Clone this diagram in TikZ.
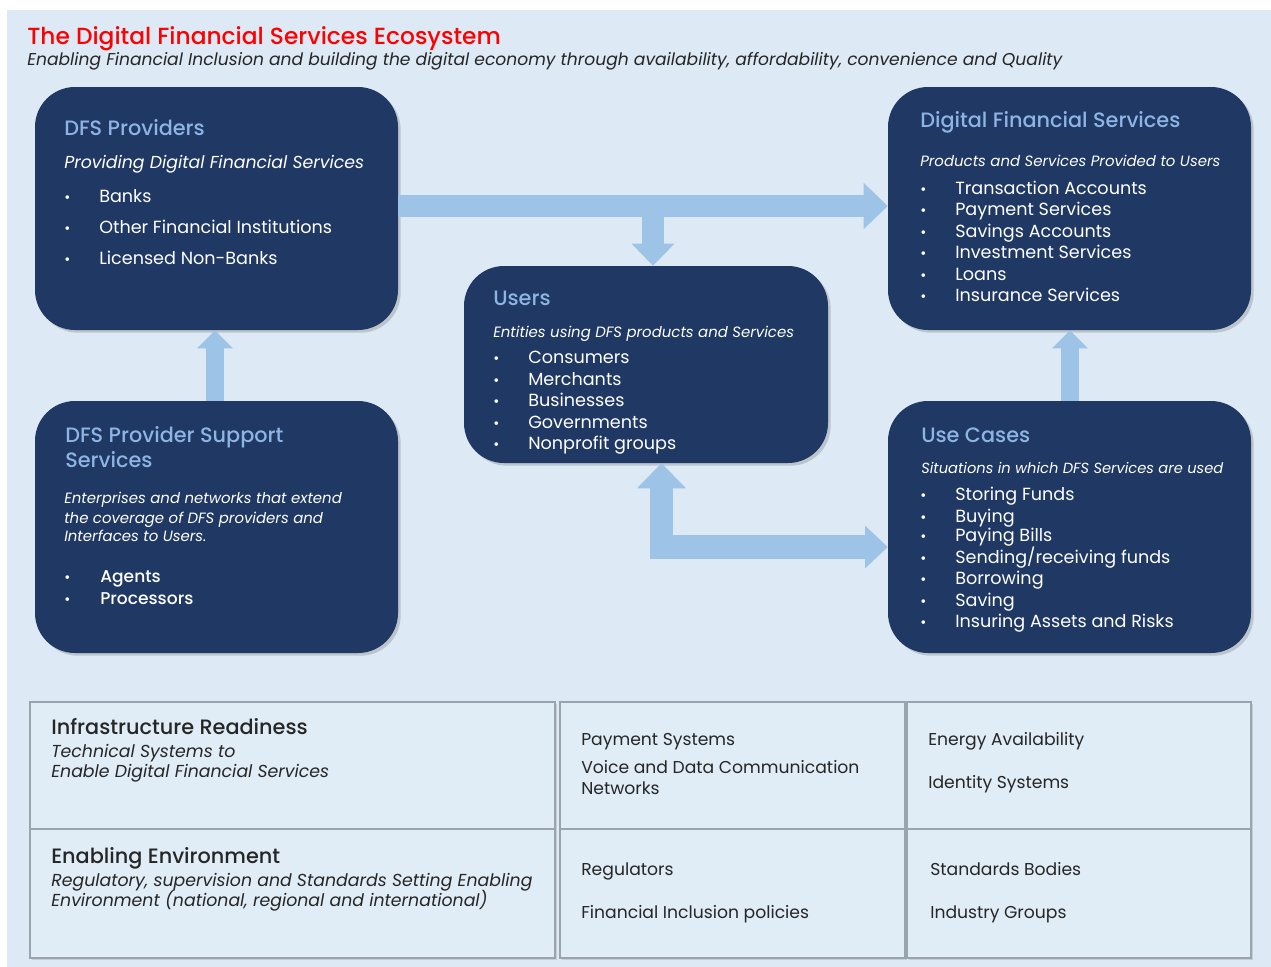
\documentclass[tikz,border=0pt]{standalone}
\usepackage{fontspec}
\setmainfont{Poppins}
\newfontfamily\pmed{Poppins Medium}
\usetikzlibrary{shadows,arrows.meta,calc}
\definecolor{bg}{HTML}{DDE9F5}
\definecolor{navy}{HTML}{1F3864}
\definecolor{ttl}{HTML}{8EB4E3}
\definecolor{arr}{HTML}{9DC3E6}
\definecolor{cell}{HTML}{E0ECF6}
\definecolor{cellb}{HTML}{9AA4AE}
\definecolor{txt}{HTML}{262626}
\begin{document}
\begin{tikzpicture}[x=0.75pt,y=-0.75pt,
  dfsbox/.style={fill=navy, rounded corners=30pt, inner sep=0pt,
    drop shadow={opacity=0.35, shadow xshift=2pt, shadow yshift=-2pt}},
  cellbox/.style={fill=cell, draw=cellb, line width=1.3pt, inner sep=0pt,
    drop shadow={opacity=0.25, shadow xshift=1.5pt, shadow yshift=-1.5pt}},
  btitle/.style={anchor=base west, inner sep=0pt, text=ttl, font=\fontsize{15.6}{18}\pmed},
  bsub/.style={anchor=base west, inner sep=0pt, text=white, font=\fontsize{11.2}{14}\selectfont\itshape},
  bitem/.style={anchor=base west, inner sep=0pt, text=white, font=\fontsize{13.2}{15}\selectfont},
  bdot/.style={anchor=base west, inner sep=0pt, text=white, font=\fontsize{11}{15}\selectfont},
  thead/.style={anchor=base west, inner sep=0pt, text=txt, font=\fontsize{15.6}{18}\pmed},
  tital/.style={anchor=base west, inner sep=0pt, text=txt, font=\fontsize{13}{15}\selectfont\itshape},
  ttext/.style={anchor=base west, inner sep=0pt, text=txt, font=\fontsize{12.9}{15}\selectfont},
  barrow/.style={draw=arr, line join=miter}
]
\useasboundingbox (0,0) rectangle (1271,967);
\fill[white] (0,0) rectangle (1271,967);
\fill[bg] (7,10) rectangle (1271,967);

% title
\node[anchor=base west, inner sep=0pt, text=red, font=\fontsize{17.5}{22}\pmed] (title) at (27,44) {The Digital Financial Services Ecosystem};
\node[anchor=base west, inner sep=0pt, text=txt, font=\fontsize{12.85}{15}\selectfont\itshape] (subtitle) at (27,65) {Enabling Financial Inclusion and building the digital economy through availability, affordability, convenience and Quality};

% boxes
\node[dfsbox, minimum width=363*0.75pt, minimum height=243*0.75pt] (prov) at (216.5,208.5) {};
\node[dfsbox, minimum width=363*0.75pt, minimum height=243*0.75pt] (dfs) at (1069.5,208.5) {};
\node[dfsbox, minimum width=364*0.75pt, minimum height=197*0.75pt] (users) at (646,364.5) {};
\node[dfsbox, minimum width=363*0.75pt, minimum height=252*0.75pt] (supp) at (216.5,527) {};
\node[dfsbox, minimum width=363*0.75pt, minimum height=252*0.75pt] (usec) at (1069.5,527) {};

% arrows
\draw[barrow, line width=17pt, -{Triangle[width=34.5pt,length=18pt,line width=0pt,fill=arr]}] (prov.east |- 0,206) -- (dfs.west |- 0,206);
\coordinate (branch) at (653,210);
\draw[barrow, line width=16.5pt, -{Triangle[width=32pt,length=16.5pt,line width=0pt,fill=arr]}] (branch) -- (branch |- users.north);
\draw[barrow, line width=13.5pt, -{Triangle[width=27pt,length=13.5pt,line width=0pt,fill=arr]}] (supp.north -| 215,0) -- (prov.south -| 215,0);
\draw[barrow, line width=13.5pt, -{Triangle[width=27pt,length=13.5pt,line width=0pt,fill=arr]}] (usec.north -| 1070,0) -- (dfs.south -| 1070,0);
\draw[barrow, line width=17.5pt, {Triangle[width=36.75pt,length=18.75pt,line width=0pt,fill=arr]}-{Triangle[width=32pt,length=17pt,line width=0pt,fill=arr]}] (users.south -| 661.5,0) |- (usec.west |- 0,547);

% DFS Providers
\node[btitle] (provt) at (64,135) {DFS Providers};
\node[bsub, font=\fontsize{13}{15}\selectfont\itshape] (provs) at (64,168) {Providing Digital Financial Services};
\foreach \y/\t [count=\i] in {202/Banks, 233/Other Financial Institutions, 264/Licensed Non-Banks}{
  \node[bdot] (provd\i) at (64,\y) {•};
  \node[bitem] (provi\i) at (99,\y) {\t};
}

% Digital Financial Services
\node[btitle] (dfst) at (920,127) {Digital Financial Services};
\node[bsub] (dfss) at (920,166) {Products and Services Provided to Users};
\foreach \y/\t [count=\i] in {194/Transaction Accounts, 215/Payment Services, 237/Savings Accounts, 258/Investment Services, 280/Loans, 301/Insurance Services}{
  \node[bdot] (dfsd\i) at (920,\y) {•};
  \node[bitem] (dfsi\i) at (955,\y) {\t};
}

% Users
\node[btitle] (userst) at (493,305) {Users};
\node[bsub] (userss) at (493,337) {Entities using DFS products and Services};
\foreach \y/\t [count=\i] in {363/Consumers, 385/Merchants, 406/Businesses, 428/Governments, 449/Nonprofit groups}{
  \node[bdot] (usersd\i) at (493,\y) {•};
  \node[bitem] (usersi\i) at (528,\y) {\t};
}

% DFS Provider Support Services
\node[btitle] (suppt1) at (65,442) {DFS Provider Support};
\node[btitle] (suppt2) at (65,467) {Services};
\node[bsub] (supps1) at (64,503) {Enterprises and networks that extend};
\node[bsub] (supps2) at (64,523) {the coverage of DFS providers and};
\node[bsub] (supps3) at (64,541) {Interfaces to Users.};
\node[bdot] (suppd1) at (64,582) {•};
\node[bitem, font=\fontsize{12.8}{15}\pmed] (suppi1) at (100,582) {Agents};
\node[bdot] (suppd2) at (64,604) {•};
\node[bitem, font=\fontsize{12.8}{15}\pmed] (suppi2) at (100,604) {Processors};

% Use Cases
\node[btitle] (usect) at (921,442) {Use Cases};
\node[bsub, font=\fontsize{11}{14}\selectfont\itshape] (usecs) at (921,473) {Situations in which DFS Services are used};
\foreach \y/\t [count=\i] in {500/Storing Funds, 522/Buying, 541/Paying Bills, 563/{Sending/receiving funds}, 584/Borrowing, 606/Saving, 627/Insuring Assets and Risks}{
  \node[bdot] (usecd\i) at (920,\y) {•};
  \node[bitem] (useci\i) at (955,\y) {\t};
}

% table
\node[cellbox, minimum width=525*0.75pt, minimum height=127*0.75pt] (c11) at (292.5,765.5) {};
\node[cellbox, minimum width=345*0.75pt, minimum height=127*0.75pt] (c12) at (732.5,765.5) {};
\node[cellbox, minimum width=344*0.75pt, minimum height=127*0.75pt] (c13) at (1079,765.5) {};
\node[cellbox, minimum width=525*0.75pt, minimum height=129*0.75pt] (c21) at (292.5,893.5) {};
\node[cellbox, minimum width=345*0.75pt, minimum height=129*0.75pt] (c22) at (732.5,893.5) {};
\node[cellbox, minimum width=344*0.75pt, minimum height=129*0.75pt] (c23) at (1079,893.5) {};

\node[thead] (infh) at (51,734) {Infrastructure Readiness};
\node[tital] (inf1) at (51,757) {Technical Systems to};
\node[tital] (inf2) at (51,777) {Enable Digital Financial Services};
\node[thead] (envh) at (51,863) {Enabling Environment};
\node[tital] (env1) at (51,886) {Regulatory, supervision and Standards Setting Enabling};
\node[tital] (env2) at (51,906) {Environment (national, regional and international)};

\node[ttext] (m1) at (581,745) {Payment Systems};
\node[ttext] (m2) at (581,773) {Voice and Data Communication};
\node[ttext] (m3) at (581,794) {Networks};
\node[ttext] (m4) at (581,875) {Regulators};
\node[ttext] (m5) at (581,918) {Financial Inclusion policies};

\node[ttext] (r1) at (928,745) {Energy Availability};
\node[ttext] (r2) at (928,788) {Identity Systems};
\node[ttext] (r3) at (930,875) {Standards Bodies};
\node[ttext] (r4) at (930,918) {Industry Groups};
\end{tikzpicture}
\end{document}
